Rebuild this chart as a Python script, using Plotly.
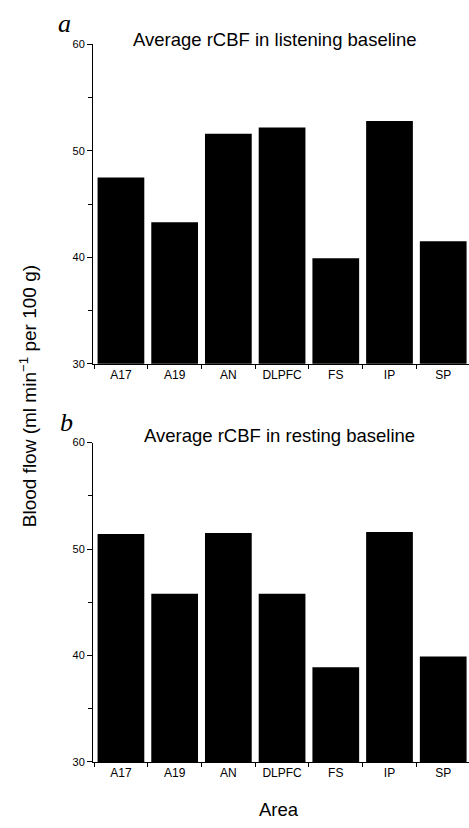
import plotly.graph_objects as go

areas = ["A17", "A19", "AN", "DLPFC", "FS", "IP", "SP"]
listening = [47.5, 43.3, 51.6, 52.2, 39.9, 52.8, 41.5]
resting = [51.4, 45.8, 51.5, 45.8, 38.9, 51.6, 39.9]
y_ticks = [30, 40, 50, 60]

W, H = 469, 828


def fy(px):
    return 1 - px / H


def fx(px):
    return px / W


fig = go.Figure()
fig.add_trace(go.Bar(x=areas, y=listening, marker_color="black", marker_line_width=0,
                     xaxis="x", yaxis="y", showlegend=False, hoverinfo="skip"))
fig.add_trace(go.Bar(x=areas, y=resting, marker_color="black", marker_line_width=0,
                     xaxis="x2", yaxis="y2", showlegend=False, hoverinfo="skip"))

xcommon = dict(range=[-0.52, 6.48], showline=True, linecolor="black", linewidth=1,
               ticks="outside", tickson="boundaries", ticklen=4, tickcolor="black",
               tickfont=dict(family="Liberation Sans", size=12, color="black"),
               showgrid=False, zeroline=False, fixedrange=True)
ycommon = dict(range=[30, 60], tickvals=y_ticks, showline=True, linecolor="black",
               linewidth=1, ticks="outside", ticklen=5, tickcolor="black",
               tickfont=dict(family="Liberation Sans", size=11, color="black"),
               minor=dict(dtick=5, tick0=0, ticks="outside", ticklen=4, tickcolor="black"),
               showgrid=False, zeroline=False, fixedrange=True)

fig.update_layout(
    width=W, height=H,
    margin=dict(l=0, r=0, t=0, b=0),
    paper_bgcolor="white", plot_bgcolor="white",
    bargap=0.13,
    xaxis=dict(domain=[fx(93), 1.0], anchor="y", **xcommon),
    yaxis=dict(domain=[fy(363), fy(39)], anchor="x", **ycommon),
    xaxis2=dict(domain=[fx(93), 1.0], anchor="y2", **xcommon),
    yaxis2=dict(domain=[fy(767), fy(443)], anchor="x2", **ycommon),
    font=dict(family="Liberation Sans", color="black"),
)


def ann(text, x, y, size, family="Liberation Sans", angle=0):
    fig.add_annotation(text=text, x=fx(x), y=fy(y), xref="paper", yref="paper",
                       showarrow=False, xanchor="center", yanchor="middle",
                       textangle=angle, font=dict(family=family, size=size, color="black"))


ann("Average rCBF in listening baseline", 274, 34, 18.5)
ann("Average rCBF in resting baseline", 279, 436, 18.5)
ann("<i>a</i>", 64, 18, 26, family="Liberation Serif")
ann("<i>b</i>", 66, 423, 26, family="Liberation Serif")
ann("Area", 279, 815, 18.5)
ann("Blood flow (ml min<sup>−1</sup> per 100 g)", 28, 396, 19, angle=-90)

fig.write_html("out.html", config={"displayModeBar": False},
               post_script="document.body.style.margin='0';document.body.style.overflow='hidden';")
